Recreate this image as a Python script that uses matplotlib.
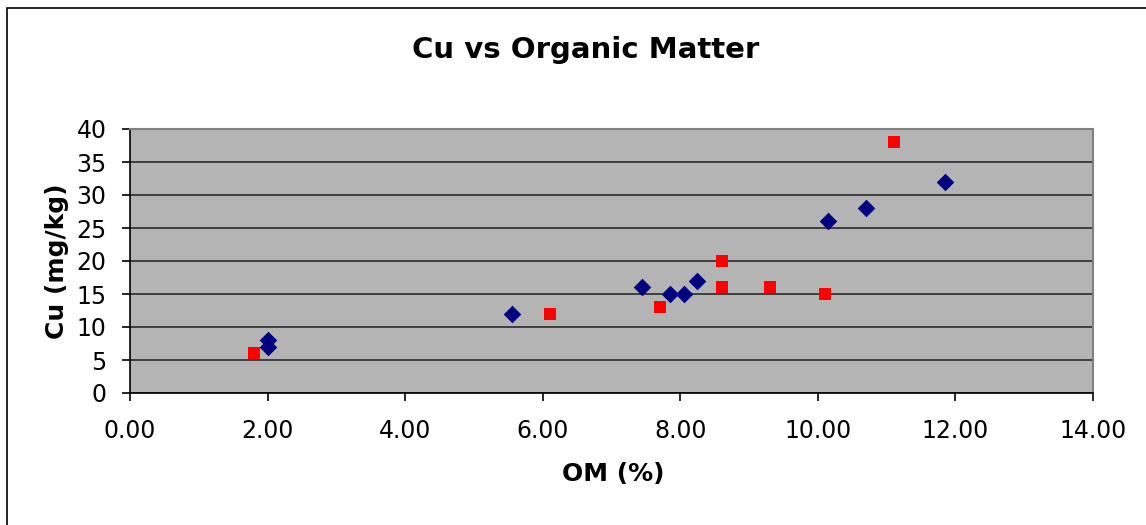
import numpy as np
import matplotlib.pyplot as plt
from matplotlib.patches import Rectangle

# blue series (diamonds)
om_blue = [2.00, 2.00, 5.55, 7.45, 7.85, 8.05, 8.25, 10.15, 10.70, 11.85]
cu_blue = [8, 7, 12, 16, 15, 15, 17, 26, 28, 32]

# red series (squares)
om_red = [1.80, 6.10, 7.70, 8.60, 8.60, 9.30, 10.10, 11.10]
cu_red = [6, 12, 13, 20, 16, 16, 15, 38]

xticks = np.arange(0, 15, 2)
yticks = np.arange(0, 45, 5)

W, H = 1146, 525
fig = plt.figure(figsize=(W / 100, H / 100), dpi=100)
# chart area border (only left/top visible in the crop)
fig.patches.append(Rectangle((7 / W, -0.01), 1.1, 1 - 8 / H + 0.01, transform=fig.transFigure,
                             fill=False, edgecolor='black', linewidth=1.2))

ax = fig.add_axes([130 / W, 1 - 393 / H, (1093 - 130) / W, (393 - 129) / H])
ax.set_facecolor('#b4b4b4')

ax.scatter(om_blue, cu_blue, marker='D', s=80, color='#000080', zorder=3, linewidths=0)
ax.scatter(om_red, cu_red, marker='s', s=65, color='#ff0000', zorder=3, linewidths=0)

ax.set_xlim(0, 14)
ax.set_ylim(0, 40)
ax.set_xticks(xticks)
ax.set_xticklabels(['%.2f' % v for v in xticks])
ax.set_yticks(yticks)
ax.yaxis.grid(True, color='#2a2a2a', linewidth=1.2)
ax.set_axisbelow(True)

ax.tick_params(axis='both', labelsize=17, direction='out', length=6, width=1.2, color='black')
ax.tick_params(axis='x', pad=13)
ax.tick_params(axis='y', pad=11)

for s in ['left', 'bottom']:
    ax.spines[s].set_color('black')
    ax.spines[s].set_linewidth(1.2)
for s in ['top', 'right']:
    ax.spines[s].set_color('#808080')
    ax.spines[s].set_linewidth(1.5)

ax.set_xlabel('OM (%)', fontsize=18, fontweight='bold', va='center')
ax.xaxis.set_label_coords((613 - 130) / (1093 - 130), (393 - 474) / (393 - 129))
ax.set_ylabel('Cu (mg/kg)', fontsize=18, fontweight='bold', va='center')
ax.yaxis.set_label_coords((57 - 130) / (1093 - 130), 0.5)

fig.text(586 / W, 1 - 50 / H, 'Cu vs Organic Matter', ha='center', va='center',
         fontsize=21, fontweight='bold')

fig.savefig('out.png', dpi=100)
